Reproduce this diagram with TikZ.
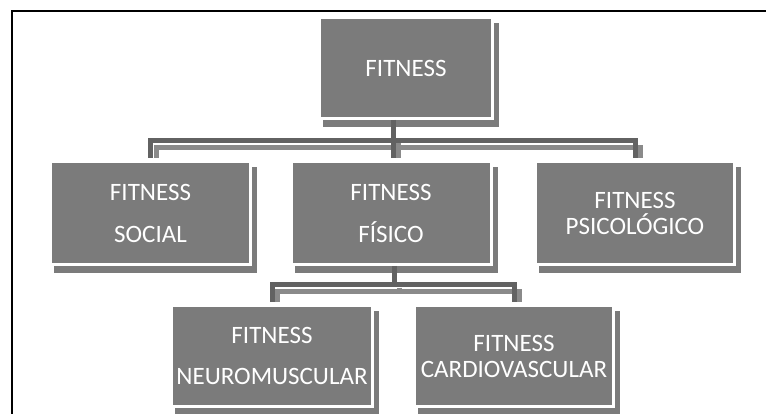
\documentclass[tikz,border=0pt]{standalone}
\usepackage{fontspec}
\setmainfont{Carlito}
\usetikzlibrary{calc}
\pgfdeclarelayer{bg}
\pgfsetlayers{bg,main}
\definecolor{boxgray}{HTML}{7B7B7B}
\definecolor{linedark}{HTML}{626262}
\definecolor{lineshade}{HTML}{8A8A8A}

\begin{document}
\begin{tikzpicture}[x=1pt,y=-1pt,
  card/.style={fill=boxgray, draw=white, line width=3pt, outer sep=1.5pt,
    text=white, align=center, inner sep=0pt},
  loose/.style={font=\fontsize{25}{42}\selectfont},
  tight/.style={font=\fontsize{25}{26}\selectfont},
  link/.style={draw=linedark, line width=5pt},
  linkshade/.style={draw=lineshade, line width=5pt}]

\useasboundingbox (0,0) rectangle (766,414);

% page frame
\draw[line width=2pt] (12,414) -- (12,11) -- (766,11);

% boxes
\node[card, loose, minimum width=173pt, minimum height=101pt] (top)    at (406,68)    {FITNESS};
\node[card, loose, minimum width=200pt, minimum height=103pt] (social) at (150.5,213) {FITNESS\\SOCIAL};
\node[card, loose, minimum width=200pt, minimum height=103pt] (fisico) at (391,213)   {FITNESS\\FÍSICO};
\node[card, tight, minimum width=199pt, minimum height=103pt] (psico)  at (635,213)   {FITNESS\\PSICOLÓGICO};
\node[card, font=\fontsize{25}{41}\selectfont, minimum width=201pt, minimum height=101pt] (neuro) at (272,356) {FITNESS\\NEUROMUSCULAR};
\node[card, tight, minimum width=199pt, minimum height=101pt] (cardio) at (514,356)   {FITNESS\\CARDIOVASCULAR};

% drop shadows behind the boxes
\begin{pgfonlayer}{bg}
  \foreach \n in {top,social,fisico,psico,neuro,cardio}
    \fill[boxgray] ($(\n.north west)+(5pt,-7pt)$) rectangle ($(\n.south east)+(5pt,-7pt)$);
\end{pgfonlayer}

% junctions of the tree
\coordinate (j1) at (393,140.5);
\coordinate (j2) at (394,284.5);

% connector shadows
\draw[linkshade] ($(social.north)+(5.5pt,2pt)$) |- ($(j1)+(0,-7pt)$) -| ($(psico.north)+(5.5pt,2pt)$);
\draw[linkshade] ($(j1)+(5.5pt,-3pt)$) -- ($(j1 |- fisico.north)+(5.5pt,2pt)$);
\draw[linkshade] ($(neuro.north)+(5.5pt,2pt)$) |- ($(j2)+(0,-7pt)$) -| ($(cardio.north)+(5.5pt,2pt)$);
\draw[linkshade] ($(j2)+(5.5pt,-3pt)$) -- ($(j2)+(5.5pt,-8pt)$);

% connectors
\draw[link] (j1 |- top.south) -- ($(j1 |- fisico.north)+(0,2pt)$);
\draw[link] ($(social.north)+(0,2pt)$) |- (j1) -| ($(psico.north)+(0,2pt)$);
\draw[link] (j2 |- fisico.south) -- (j2);
\draw[link] ($(neuro.north)+(0,2pt)$) |- (j2) -| ($(cardio.north)+(0,2pt)$);
\end{tikzpicture}
\end{document}
